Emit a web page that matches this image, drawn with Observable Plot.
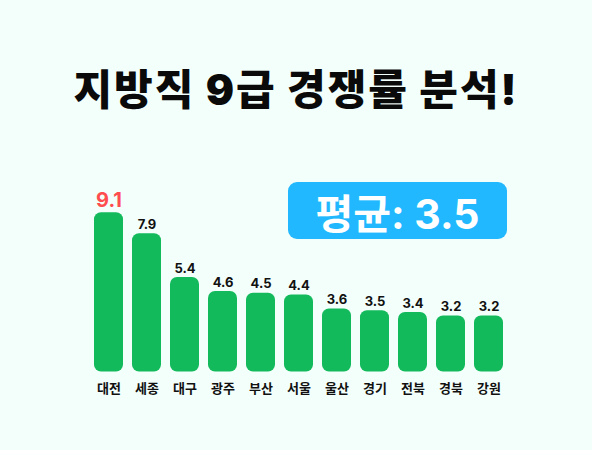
<!DOCTYPE html>
<html>
<head>
<meta charset="utf-8">
<script src="https://cdn.jsdelivr.net/npm/d3@7"></script>
<script src="https://cdn.jsdelivr.net/npm/@observablehq/plot@0.6"></script>
<style>
  html, body { margin: 0; padding: 0; background: #f3fffb; }
  #wrap { position: relative; width: 592px; height: 450px; background: #f3fffb; overflow: hidden;
          font-family: Inter, "Noto Sans CJK KR", sans-serif; }
  #title { position: absolute; left: 0; top: 61px; width: 592px; text-align: center;
           font-size: 42px; font-weight: 900; color: #0a0a0a; line-height: 58px; letter-spacing: 2px; }
  #avg { position: absolute; left: 288px; top: 182px; width: 219px; height: 57px; border-radius: 9px;
         background: #22b8ff; color: #ffffff; font-size: 41px; font-weight: 700;
         display: flex; align-items: center; justify-content: center; }
  #chart { position: absolute; left: 0; top: 130px; }
</style>
</head>
<body>
<div id="wrap">
  <div id="title"></div>
  <div id="chart"></div>
  <div id="avg"></div>
</div>
<script>
const titleText = "지방직 9급 경쟁률 분석!";
const regions = ["대전", "세종", "대구", "광주", "부산", "서울", "울산", "경기", "전북", "경북", "강원"];
const rates = [9.1, 7.9, 5.4, 4.6, 4.5, 4.4, 3.6, 3.5, 3.4, 3.2, 3.2];
const averageLabel = "평균: 3.5";

document.getElementById("title").textContent = titleText;
document.getElementById("avg").textContent = averageLabel;

const data = regions.map((r, i) => ({region: r, rate: rates[i], top: i === 0}));

const chart = Plot.plot({
  width: 592,
  height: 320,
  marginLeft: 84,
  marginRight: 80,
  marginTop: 66.5,
  marginBottom: 78.5,
  style: {background: "transparent", fontFamily: 'Inter, "Noto Sans CJK KR", sans-serif'},
  x: {domain: regions, padding: 0.24, label: null},
  y: {domain: [0, 10], axis: null},
  marks: [
    Plot.barY(data, {x: "region", y: "rate", fill: "#12ba5c", rx: 7}),
    Plot.text(data.filter(d => !d.top), {x: "region", y: "rate", text: d => d.rate.toFixed(1),
      dy: -5, lineAnchor: "bottom", fontSize: 13, fontWeight: 700, fill: "#111111"}),
    Plot.text(data.filter(d => d.top), {x: "region", y: "rate", text: d => d.rate.toFixed(1),
      dy: -6, lineAnchor: "bottom", fontSize: 20, fontWeight: 700, fill: "#ff4d4f"}),
    Plot.axisX({tickSize: 0, tickPadding: 12, fontSize: 13, fontWeight: 700, fill: "#111111", label: null})
  ]
});
document.getElementById("chart").appendChild(chart);
</script>
</body>
</html>
